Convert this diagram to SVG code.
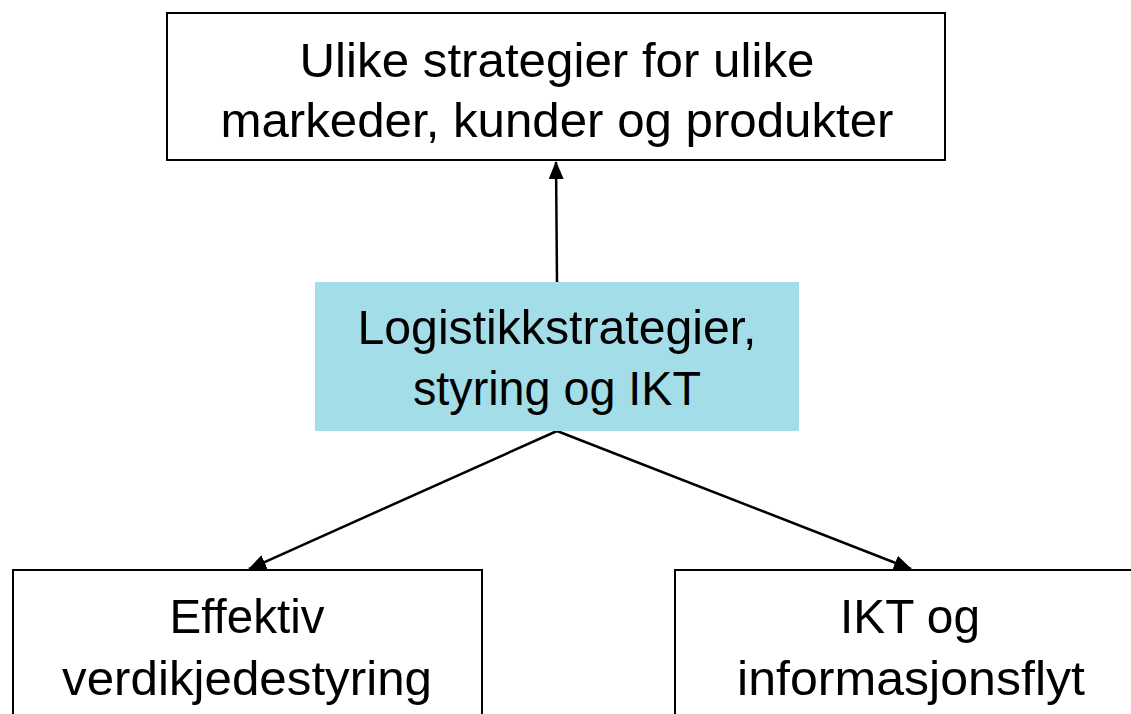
<svg xmlns="http://www.w3.org/2000/svg" width="1131" height="714" viewBox="0 0 1131 714">
<defs>
<marker id="ah" viewBox="0 0 18 15" refX="17" refY="7.5" markerWidth="18" markerHeight="15" orient="auto" markerUnits="userSpaceOnUse">
<path d="M0,0 L18,7.5 L0,15 z" fill="#000"/>
</marker>
<style>
.box{fill:#fff;stroke:#000;stroke-width:2}
.mid{fill:#a3dde8;stroke:none}
.t{font-family:"Liberation Sans",Arial,sans-serif;font-size:49px;fill:#000;text-anchor:middle}
.c{stroke:#000;stroke-width:2.5;fill:none;marker-end:url(#ah)}
</style>
</defs>
<rect width="1131" height="714" fill="#fff"/>
<g id="connectors">
<line class="c" x1="557" y1="282" x2="556" y2="162"/>
<line class="c" x1="557" y1="431" x2="249" y2="569"/>
<line class="c" x1="557" y1="431" x2="911" y2="569"/>
</g>
<g id="node-top">
<rect class="box" x="167" y="13" width="778" height="147"/>
<text class="t" x="557" y="77" textLength="515" lengthAdjust="spacingAndGlyphs">Ulike strategier for ulike</text>
<text class="t" x="557" y="137" textLength="673" lengthAdjust="spacingAndGlyphs">markeder, kunder og produkter</text>
</g>
<g id="node-mid">
<rect class="mid" x="315" y="282" width="484" height="149"/>
<text class="t" x="557" y="344" textLength="399" lengthAdjust="spacingAndGlyphs">Logistikkstrategier,</text>
<text class="t" x="557" y="405" textLength="288" lengthAdjust="spacingAndGlyphs">styring og IKT</text>
</g>
<g id="node-left">
<rect class="box" x="13" y="570" width="469" height="160"/>
<text class="t" x="247" y="633" textLength="155" lengthAdjust="spacingAndGlyphs">Effektiv</text>
<text class="t" x="247" y="695" textLength="370" lengthAdjust="spacingAndGlyphs">verdikjedestyring</text>
</g>
<g id="node-right">
<rect class="box" x="675" y="570" width="470" height="160"/>
<text class="t" x="910" y="633" textLength="140" lengthAdjust="spacingAndGlyphs">IKT og</text>
<text class="t" x="911" y="695" textLength="348" lengthAdjust="spacingAndGlyphs">informasjonsflyt</text>
</g>
</svg>
